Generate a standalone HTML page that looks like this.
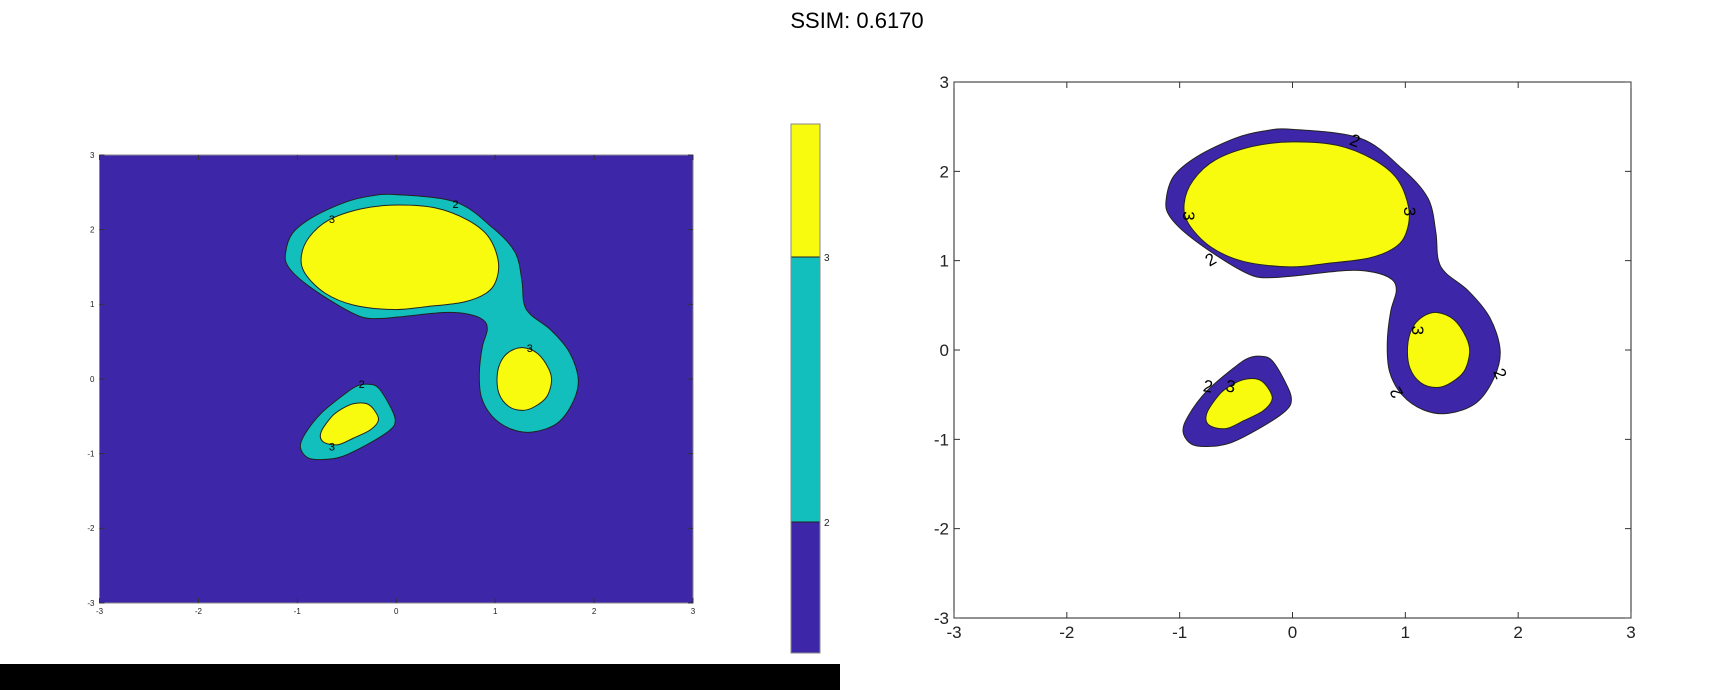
<!DOCTYPE html>
<html><head><meta charset="utf-8"><style>
html,body{margin:0;padding:0;background:#fff;width:1715px;height:690px;overflow:hidden;font-family:"Liberation Sans",sans-serif}
</style></head><body>
<svg id="svg" width="1715" height="690" xmlns="http://www.w3.org/2000/svg">
<text x="857" y="28" text-anchor="middle" font-size="22" font-family="Liberation Sans, sans-serif">SSIM: 0.6170</text>
<rect x="0" y="664" width="840" height="26" fill="#000"/>
<g id="left"></g>
<g id="cbar"></g>
<g id="right"></g>
</svg>
<script>
const ticks=[-3,-2,-1,0,1,2,3];
const levelLabels=[2,3];
const outerBig=[[0,2.47],[0.6,2.37],[0.97,2.03],[1.2,1.7],[1.27,1.32],[1.29,1.02],[1.36,0.86],[1.56,0.66],[1.75,0.36],[1.84,0],[1.79,-0.3],[1.63,-0.59],[1.38,-0.71],[1.16,-0.67],[0.97,-0.5],[0.86,-0.24],[0.84,0.08],[0.87,0.43],[0.92,0.66],[0.88,0.79],[0.72,0.87],[0.48,0.89],[0.02,0.83],[-0.18,0.81],[-0.35,0.83],[-0.59,0.99],[-0.92,1.28],[-1.09,1.5],[-1.12,1.68],[-1.05,1.95],[-0.84,2.17],[-0.51,2.37],[-0.26,2.45]];
const innerBig=[[0,2.33],[0.4,2.29],[0.72,2.13],[0.93,1.91],[1.03,1.59],[1.01,1.32],[0.91,1.15],[0.68,1.03],[0.31,0.97],[-0.02,0.93],[-0.43,0.99],[-0.72,1.15],[-0.92,1.41],[-0.96,1.64],[-0.88,1.9],[-0.68,2.13],[-0.35,2.28]];
const innerRight=[[1.28,0.42],[1.43,0.34],[1.54,0.14],[1.57,-0.03],[1.52,-0.24],[1.4,-0.37],[1.28,-0.42],[1.14,-0.37],[1.04,-0.2],[1.02,0.04],[1.06,0.24],[1.15,0.37]];
const outerSmall=[[-0.28,-0.07],[-0.18,-0.12],[-0.06,-0.37],[-0.01,-0.55],[-0.06,-0.68],[-0.27,-0.86],[-0.55,-1.04],[-0.76,-1.08],[-0.9,-1.05],[-0.97,-0.91],[-0.92,-0.73],[-0.76,-0.46],[-0.51,-0.19],[-0.39,-0.09]];
const innerSmall=[[-0.43,-0.33],[-0.3,-0.33],[-0.22,-0.42],[-0.18,-0.55],[-0.26,-0.68],[-0.43,-0.79],[-0.59,-0.88],[-0.74,-0.84],[-0.76,-0.71],[-0.65,-0.5],[-0.55,-0.4]];
const leftLabels=[["2",0.6,2.33,0],["3",-0.65,2.13,0],["3",1.35,0.4,0],["2",-0.35,-0.08,0],["3",-0.65,-0.92,0]];
const rightLabels=[["2",0.55,2.33,20],["3",-0.93,1.5,90],["3",1.03,1.55,90],["2",-0.72,1.0,-30],["3",1.1,0.22,90],["2",1.83,-0.27,65],["2",0.93,-0.47,-120],["2",-0.75,-0.42,10],["3",-0.55,-0.42,10]];

const NS="http://www.w3.org/2000/svg";
function mk(tag,attrs,parent){const e=document.createElementNS(NS,tag);for(const k in attrs)e.setAttribute(k,attrs[k]);parent.appendChild(e);return e;}
function pathD(pts,sx,sy){
  const p=pts.map(q=>[sx(q[0]),sy(q[1])]);const n=p.length;let d="M"+p[0][0]+","+p[0][1];
  for(let i=0;i<n;i++){const p0=p[(i-1+n)%n],p1=p[i],p2=p[(i+1)%n],p3=p[(i+2)%n];
    d+=" C"+(p1[0]+(p2[0]-p0[0])/6)+","+(p1[1]+(p2[1]-p0[1])/6)+" "+(p2[0]-(p3[0]-p1[0])/6)+","+(p2[1]-(p3[1]-p1[1])/6)+" "+p2[0]+","+p2[1];}
  return d+"Z";}
function plot(g,x0,x1,y0,y1,opt){
  const sx=v=>x0+(v+3)/6*(x1-x0), sy=v=>y1-(v+3)/6*(y1-y0);
  if(opt.bg){const r=mk('rect',{x:x0,y:y0,width:x1-x0,height:y1-y0,fill:opt.bg},g);}
  const shapes=[[outerBig,opt.c2,'outer-contour-level-2'],[outerSmall,opt.c2,'small-contour-level-2'],[innerBig,'#f9fb0e','big-contour-level-3'],[innerRight,'#f9fb0e','right-contour-level-3'],[innerSmall,'#f9fb0e','small-contour-level-3']];
  shapes.forEach(s=>{const e=mk('path',{d:pathD(s[0],sx,sy),fill:s[1],stroke:'#222','stroke-width':1},g);
    
    });
  opt.labels.forEach(l=>{const t=mk('text',{x:sx(l[1]),y:sy(l[2]),'font-size':opt.lfs,'text-anchor':'middle','dominant-baseline':'middle',transform:`rotate(${l[3]} ${sx(l[1])} ${sy(l[2])})`},g);t.textContent=l[0];
    
    });
  const fr=mk('rect',{x:x0,y:y0,width:x1-x0,height:y1-y0,fill:'none',stroke:opt.frame,'stroke-width':1},g);
  
  
  ticks.forEach(v=>{
    const X=sx(v),Y=sy(v),tl=opt.tl;
    mk('path',{d:`M${X},${y1}v${-tl}M${X},${y0}v${tl}M${x0},${Y}h${tl}M${x1},${Y}h${-tl}`,stroke:'#333','stroke-width':1},g);
    const tx=mk('text',{x:X,y:y1+opt.fs+3,'font-size':opt.fs,'text-anchor':'middle',fill:'#222'},g);tx.textContent=v;
    
    
    const ty=mk('text',{x:x0-5,y:Y+opt.fs*0.35,'font-size':opt.fs,'text-anchor':'end',fill:'#222'},g);ty.textContent=v;
    
    
  });
}
plot(document.getElementById('left'),99.5,693,155,603,{bg:'#3e26a8',c2:'#12bfbc',labels:leftLabels,lfs:11,frame:'#888',fs:8,tl:5});
plot(document.getElementById('right'),954,1631,82,618,{bg:null,c2:'#3e26a8',labels:rightLabels,lfs:17,frame:'#222',fs:17,tl:6});
const cb=document.getElementById('cbar');
const cbx=791,cbw=29,cbTop=124,cbBot=653,cb3=257,cb2=522;
[[cbTop,cb3,'#f9fb0e','colorbar-yellow'],[cb3,cb2,'#12bfbc','colorbar-teal'],[cb2,cbBot,'#3e26a8','colorbar-blue']].forEach(s=>{
  const r=mk('rect',{x:cbx,y:s[0],width:cbw,height:s[1]-s[0],fill:s[2]},cb);
  
  });
mk('path',{d:`M${cbx},${cb3}h${cbw}M${cbx},${cb2}h${cbw}`,stroke:'#222','stroke-width':1},cb);
mk('rect',{x:cbx,y:cbTop,width:cbw,height:cbBot-cbTop,fill:'none',stroke:'#888'},cb);
[[cb2,levelLabels[0]],[cb3,levelLabels[1]]].forEach(l=>{const t=mk('text',{x:cbx+cbw+4,y:l[0]+4,'font-size':10,fill:'#222'},cb);t.textContent=l[1];
  
  });
</script>
</body></html>
